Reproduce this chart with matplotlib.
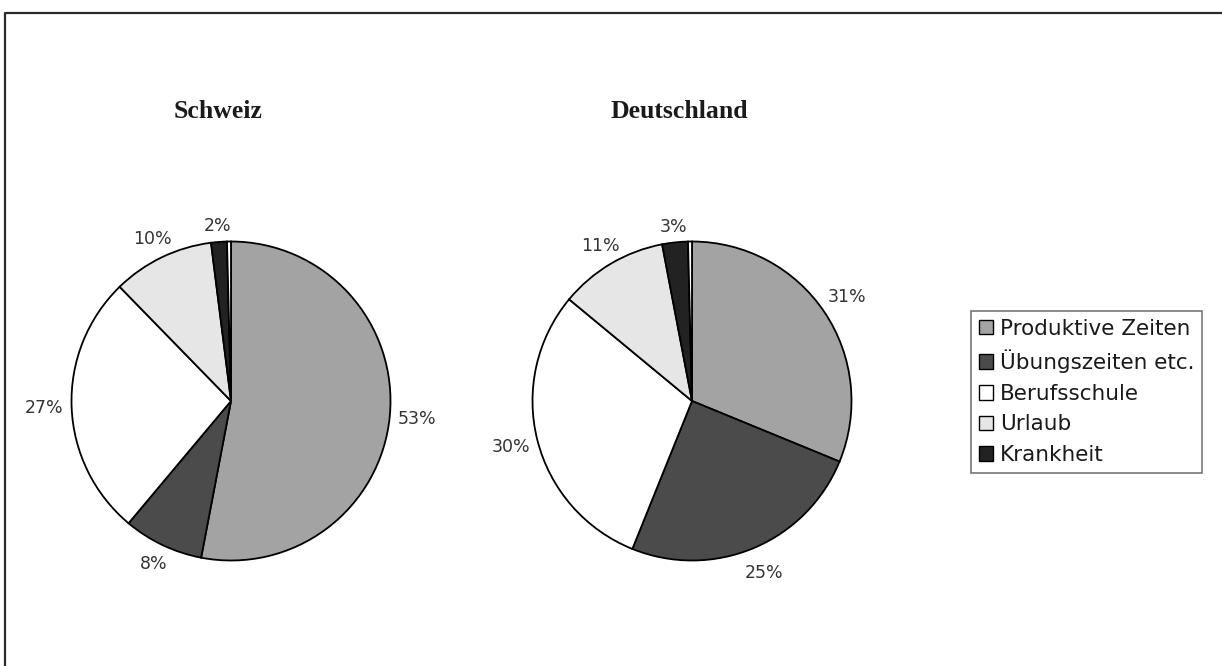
import matplotlib
matplotlib.use("Agg")
import matplotlib.pyplot as plt
from matplotlib.patches import Patch
from matplotlib.lines import Line2D

# Anteile der Ausbildungszeit (in %)
kategorien = ["Produktive Zeiten", "Übungszeiten etc.", "Berufsschule", "Urlaub", "Krankheit", "Sonstiges"]
schweiz = [53.0, 8.1, 26.6, 10.3, 1.6, 0.4]
deutschland = [31.2, 24.9, 29.9, 11.0, 2.6, 0.4]
titel = ["Schweiz", "Deutschland"]

farben = ["#a3a3a3", "#4b4b4b", "#ffffff", "#e6e6e6", "#222222", "#ffffff"]
legend_n = 5  # only the first five categories appear in the legend

W, H = 1222, 666
fig = plt.figure(figsize=(W / 100, H / 100), dpi=100)
fig.patch.set_facecolor("white")

R_PX = 159.5
LIM = 1.4
side = 2 * LIM * R_PX


def pie_axes(cx, cy):
    left = (cx - side / 2) / W
    bottom = (H - cy - side / 2) / H
    return fig.add_axes([left, bottom, side / W, side / H])


def pct_label(p):
    return f"{p:.0f}%" if p >= 1 else ""


centres = [(231, 401), (692, 401)]
title_pos = [(218, 112), (679, 112)]

for (cx, cy), werte, name, (tx, ty) in zip(centres, [schweiz, deutschland], titel, title_pos):
    ax = pie_axes(cx, cy)
    wedges, _, autotexts = ax.pie(
        werte,
        colors=farben,
        startangle=90,
        counterclock=False,
        autopct=pct_label,
        pctdistance=1.17,
        wedgeprops=dict(edgecolor="black", linewidth=1.3),
        textprops=dict(fontsize=12.5, color="#333333", family="DejaVu Sans"),
    )
    # small slices keep their labels a little closer to the rim
    for w, t, v in zip(wedges, autotexts, werte):
        if v < 12:
            x, y = t.get_position()
            f = 1.1 / 1.17 if v < 5 else 1.13 / 1.17
            t.set_position((x * f, y * f))
    ax.set_xlim(-LIM, LIM)
    ax.set_ylim(-LIM, LIM)
    ax.set_aspect("equal")
    ax.axis("off")
    fig.text(tx / W, 1 - ty / H, name, ha="center", va="center",
             fontsize=18.5, fontweight="bold", family="Liberation Serif", color="#1a1a1a")

handles = [Patch(facecolor=farben[i], edgecolor="black", linewidth=1.0) for i in range(legend_n)]
leg = fig.legend(
    handles, kategorien[:legend_n],
    loc="upper left",
    bbox_to_anchor=(971 / W, 1 - 311 / H),
    prop=dict(family="DejaVu Sans", size=15.5),
    handlelength=0.68, handleheight=0.68, handletextpad=0.3,
    labelspacing=0.5, borderpad=0.35, borderaxespad=0.0,
    frameon=True, fancybox=False,
)
leg.get_frame().set_edgecolor("#555555")
leg.get_frame().set_linewidth(1.2)
for t in leg.get_texts():
    t.set_color("#1a1a1a")

# outer frame (top and left edges visible)
fig.add_artist(Line2D([5 / W, 5 / W, 1.01], [-0.01, 1 - 13 / H, 1 - 13 / H],
                      transform=fig.transFigure, color="#2a2a2a", linewidth=1.6))

fig.savefig("out.png", dpi=100, facecolor="white")
